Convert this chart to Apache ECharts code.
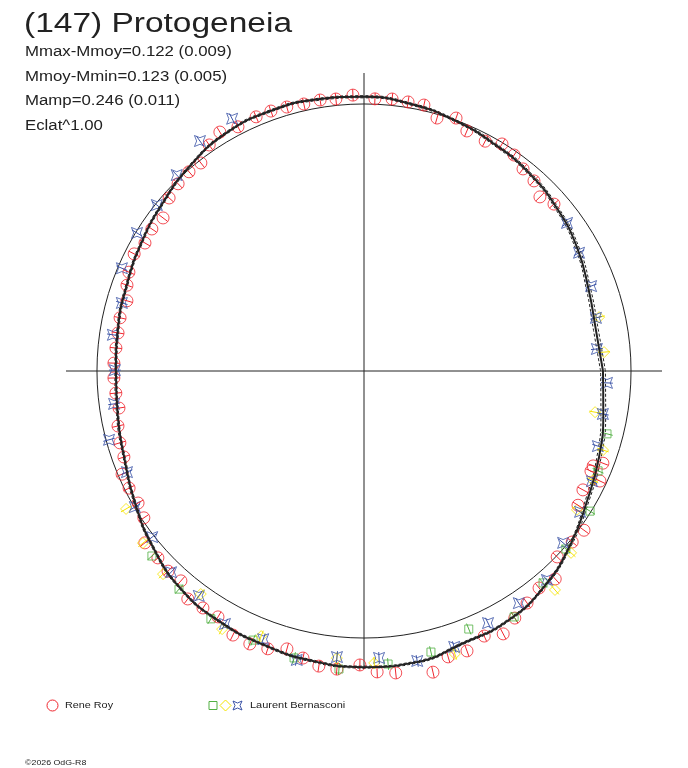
<!DOCTYPE html>
<html>
<head>
<meta charset="utf-8"/>
<script src="https://cdn.jsdelivr.net/npm/echarts@6/dist/echarts.min.js"></script>
<style>body{margin:0;background:#fff;}</style>
</head>
<body>
<div id="main" style="width:688px;height:768px;"></div>
<script>
// courbe de lumiere polaire : angle = phase (deg), rayon = eclat relatif (1 = moyenne)
var fitAng = [0,10,20,30,40,50,60,70,80,90,100,110,120,130,140,150,160,170,180,
              190,200,210,220,230,240,250,260,270,280,290,300,310,320,330,340,350,360];
var fitR   = [0.895,0.882,0.895,0.922,0.945,0.965,0.980,0.998,1.015,1.027,1.032,1.035,1.030,1.008,0.982,0.962,0.945,0.935,0.929,
              0.937,0.955,0.990,1.030,1.066,1.083,1.092,1.103,1.109,1.108,1.085,1.079,1.052,1.010,0.966,0.937,0.910,0.895];
var fitHi  = [0.904,0.891,0.903,0.929,0.951,0.970,0.985,1.002,1.019,1.031,1.036,1.039,1.034,1.012,0.986,0.966,0.949,0.939,0.933,
              0.941,0.959,0.994,1.034,1.070,1.087,1.096,1.107,1.113,1.112,1.089,1.083,1.056,1.015,0.973,0.945,0.919,0.904];
var fitLo  = [0.886,0.873,0.887,0.915,0.939,0.960,0.975,0.994,1.011,1.023,1.028,1.031,1.026,1.004,0.978,0.958,0.941,0.931,0.925,
              0.933,0.951,0.986,1.026,1.062,1.079,1.088,1.099,1.105,1.104,1.081,1.075,1.048,1.005,0.959,0.929,0.901,0.886];

// Rene Roy
var royAng = [92.3,87.7,84.1,80.7,77.3,73.9,70.0,66.8,62.2,58.7,55.2,51.8,48.2,44.7,41.3,
              337.5,338.9,336.2,335.0,331.5,327.9,324.1,320.6,316.1,312.6,308.9,305.1,301.4,297.9,294.4,290.2,286.4,282.9,276.0,272.5,269.2,
              264.8,261.3,258.0,254.5,250.9,247.3,243.6,239.3,235.8,232.3,228.9,225.6,222.2,218.1,213.7,210.3,206.5,
              203.1,199.7,196.4,192.6,188.6,185.1,181.6,178.2,174.7,171.2,167.7,163.5,160.1,157.2,
              153.0,149.7,146.2,142.7,138.4,134.8,131.3,128.1,124.4,121.1,117.3,113.0,109.7,106.3,102.7,99.2,95.9];
var royR   = [1.034,1.020,1.024,1.021,1.021,0.986,1.008,0.978,0.973,0.995,0.985,0.963,0.955,0.927,0.947,
              0.929,0.959,0.929,0.975,0.933,0.946,1.017,1.009,1.004,1.058,1.044,1.062,1.084,1.114,1.090,1.117,1.116,1.157,1.137,1.128,1.101,
              1.121,1.118,1.099,1.080,1.101,1.108,1.104,1.071,1.073,1.079,1.043,1.049,1.042,1.043,0.991,0.980,0.983,
              0.985,0.955,0.953,0.944,0.928,0.933,0.937,0.937,0.933,0.932,0.935,0.926,0.944,0.955,
              0.966,0.950,0.956,0.946,0.976,0.988,0.993,0.990,1.026,1.045,1.029,1.034,1.034,1.030,1.025,1.028,1.024];

// Laurent Bernasconi : trois sessions
var sqAng = [221.1,229.7,238.3,247.6,256.3,265.2,274.7,283.4,292.1,301.4,310.2,318.6,328.2,336.9,345.5];
var sqR   = [1.054,1.071,1.091,1.090,1.106,1.120,1.101,1.082,1.043,1.079,1.039,1.008,0.996,0.953,0.940];

var diAng = [210.1,217.9,225.3,233.8,241.2,248.8,264.6,272.0,287.8,311.1,318.7,326.9,334.5,341.7,349.9,4.5,12.9];
var diR   = [1.030,1.049,1.070,1.035,1.103,1.065,1.080,1.094,1.113,1.088,1.032,0.952,0.950,0.943,0.879,0.902,0.903];

var stAng = [117.6,125.5,133.7,141.3,148.7,157.0,164.3,171.8,179.8,187.5,195.1,203.1,210.7,218.1,226.2,233.7,241.2,249.4,
             256.9,264.6,273.0,280.4,288.1,296.2,303.7,311.2,319.2,326.9,334.2,342.2,349.8,357.2,5.4,12.9,20.5,28.8,36.1];
var stR   = [1.066,1.058,1.015,0.994,0.995,0.985,0.942,0.950,0.933,0.944,0.989,0.965,0.998,1.008,1.044,1.045,1.081,1.073,
             1.111,1.076,1.076,1.104,1.087,1.052,1.045,1.040,0.985,0.966,0.948,0.920,0.909,0.911,0.876,0.891,0.908,0.919,0.941];

var statLines = ['Mmax-Mmoy=0.122 (0.009)', 'Mmoy-Mmin=0.123 (0.005)', 'Mamp=0.246 (0.011)', 'Eclat^1.00'];

var ERR = 0.022;   // demi-barre d'erreur
var STAR = 'path://M0,0 L5,2 L10,0 L8,5 L10,10 L5,8 L0,10 L2,5 Z';
var RED = '#f0262e', GREEN = '#52b043', YELLOW = '#f5e400', BLUE = '#3a52a6', INK = '#222';

function pairs(ang, r) {
  return ang.map(function (a, i) { return [r[i], a]; });
}

function errBar(color) {
  return function (params, api) {
    var r = api.value(0), a = api.value(1);
    var p1 = api.coord([r - ERR, a]);
    var p2 = api.coord([r + ERR, a]);
    return {
      type: 'line',
      shape: { x1: p1[0], y1: p1[1], x2: p2[0], y2: p2[1] },
      style: { stroke: color, lineWidth: 1 }
    };
  };
}

function obs(name, ang, r, symbol, size, color) {
  return [
    {
      name: name, type: 'scatter', coordinateSystem: 'polar',
      data: pairs(ang, r), symbol: symbol, symbolSize: size, clip: false,
      itemStyle: { color: 'rgba(0,0,0,0)', borderColor: color, borderWidth: 1 },
      z: 3
    },
    {
      type: 'custom', coordinateSystem: 'polar', data: pairs(ang, r),
      renderItem: errBar(color), z: 4
    }
  ];
}

var myChart = echarts.init(document.getElementById('main'));

var fontMain = '"Liberation Sans", Arial, sans-serif';
var graphics = [
  { type: 'text', x: 24, y: 25, scaleX: 1.24,
    style: { text: '(147) Protogeneia', font: '27px ' + fontMain, fill: INK, verticalAlign: 'middle' } }
];
statLines.forEach(function (t, i) {
  graphics.push({ type: 'text', x: 25, y: 52 + i * 24.8, scaleX: 1.2,
    style: { text: t, font: '14px ' + fontMain, fill: INK, verticalAlign: 'middle' } });
});
// legende
graphics.push(
  { type: 'circle', shape: { cx: 52.5, cy: 705.5, r: 5.5 }, style: { fill: 'none', stroke: RED, lineWidth: 1 } },
  { type: 'text', x: 65, y: 705.5, scaleX: 1.2,
    style: { text: 'Rene Roy', font: '9px ' + fontMain, fill: INK, verticalAlign: 'middle' } },
  { type: 'rect', shape: { x: 209, y: 701.5, width: 8, height: 8 }, style: { fill: 'none', stroke: GREEN, lineWidth: 1 } },
  { type: 'polygon', shape: { points: [[225.5, 700], [231, 705.5], [225.5, 711], [220, 705.5]] },
    style: { fill: 'none', stroke: YELLOW, lineWidth: 1 } },
  { type: 'polygon', shape: { points: [[233, 701], [237.5, 703], [242, 701], [240, 705.5], [242, 710], [237.5, 708], [233, 710], [235, 705.5]] },
    style: { fill: 'none', stroke: BLUE, lineWidth: 1 } },
  { type: 'text', x: 250, y: 705.5, scaleX: 1.22,
    style: { text: 'Laurent Bernasconi', font: '9px ' + fontMain, fill: INK, verticalAlign: 'middle' } },
  { type: 'text', x: 25, y: 763, scaleX: 1.1,
    style: { text: '\u00a92026 OdG-R8', font: '8px ' + fontMain, fill: INK, verticalAlign: 'middle' } }
);

var series = [
  { type: 'line', coordinateSystem: 'polar', data: pairs(fitAng, fitHi), smooth: true, showSymbol: false,
    lineStyle: { color: INK, width: 1, type: [3, 2] }, z: 2 },
  { type: 'line', coordinateSystem: 'polar', data: pairs(fitAng, fitLo), smooth: true, showSymbol: false,
    lineStyle: { color: INK, width: 1, type: [3, 2] }, z: 2 },
  { type: 'line', coordinateSystem: 'polar', data: pairs(fitAng, fitR), smooth: true, showSymbol: false,
    lineStyle: { color: INK, width: 2 }, z: 5 }
].concat(
  obs('Rene Roy', royAng, royR, 'circle', 12, RED),
  obs('Laurent Bernasconi 1', sqAng, sqR, 'rect', 8, GREEN),
  obs('Laurent Bernasconi 2', diAng, diR, 'diamond', 11, YELLOW),
  obs('Laurent Bernasconi 3', stAng, stR, STAR, 11, BLUE)
);

myChart.setOption({
  animation: false,
  backgroundColor: '#fff',
  polar: { center: [364, 371], radius: 298 },
  angleAxis: {
    type: 'value', min: 0, max: 360, interval: 90, startAngle: 0, clockwise: false,
    axisLine: { show: false }, axisTick: { show: false }, axisLabel: { show: false },
    splitLine: { show: true, lineStyle: { color: INK, width: 1 } }
  },
  radiusAxis: {
    type: 'value', min: 0, max: 1.116, interval: 1,
    axisLine: { show: false }, axisTick: { show: false }, axisLabel: { show: false },
    splitLine: { show: true, lineStyle: { color: ['rgba(0,0,0,0)', INK], width: 1 } }
  },
  graphic: graphics,
  series: series
});
</script>
</body>
</html>
